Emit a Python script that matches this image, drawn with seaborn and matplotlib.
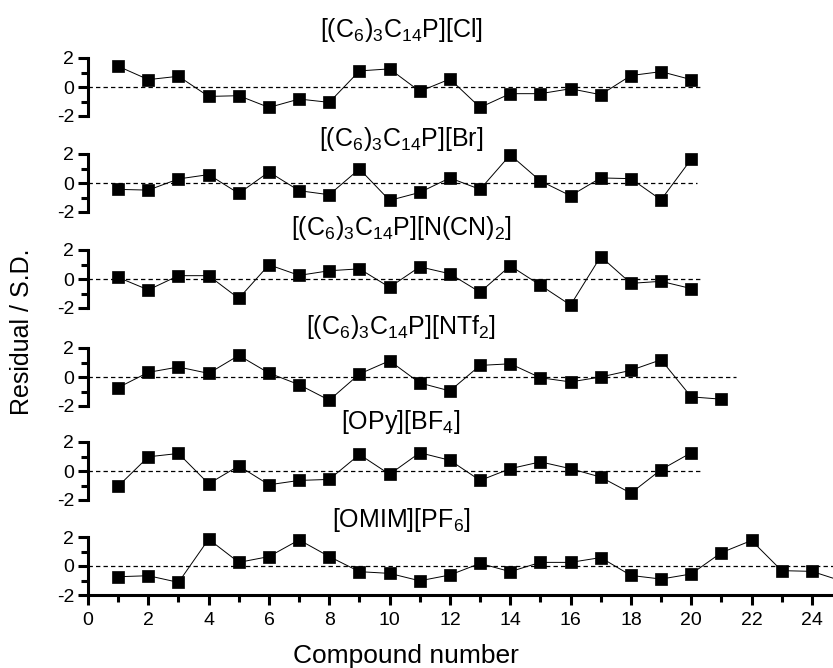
import numpy as np
import pandas as pd
import matplotlib
matplotlib.use('Agg')
import matplotlib.pyplot as plt
import seaborn as sns

# residuals, one list per ionic liquid
titles = [r'[(C$_6$)$_3$C$_{14}$P][Cl]',
          r'[(C$_6$)$_3$C$_{14}$P][Br]',
          r'[(C$_6$)$_3$C$_{14}$P][N(CN)$_2$]',
          r'[(C$_6$)$_3$C$_{14}$P][NTf$_2$]',
          r'[OPy][BF$_4$]',
          r'[OMIM][PF$_6$]']

res_cl = [1.43, 0.51, 0.74, -0.65, -0.60, -1.41, -0.83, -1.06, 1.11, 1.25,
          -0.30, 0.55, -1.41, -0.46, -0.46, -0.12, -0.53, 0.79, 1.06, 0.51]
res_br = [-0.44, -0.49, 0.28, 0.58, -0.72, 0.76, -0.53, -0.81, 0.97, -1.20,
          -0.65, 0.35, -0.44, 1.94, 0.14, -0.88, 0.35, 0.30, -1.16, 1.64]
res_ncn = [0.11, -0.75, 0.23, 0.23, -1.34, 0.98, 0.25, 0.57, 0.70, -0.57,
           0.84, 0.36, -0.91, 0.91, -0.43, -1.80, 1.55, -0.30, -0.16, -0.66]
res_ntf2 = [-0.73, 0.32, 0.69, 0.25, 1.49, 0.27, -0.53, -1.60, 0.21, 1.12,
            -0.41, -0.96, 0.80, 0.91, -0.05, -0.34, 0.00, 0.46, 1.19, -1.37, -1.53]
res_opy = [-1.05, 0.98, 1.21, -0.88, 0.35, -0.95, -0.65, -0.58, 1.14, -0.23,
           1.26, 0.74, -0.65, 0.16, 0.63, 0.16, -0.42, -1.53, 0.09, 1.26]
res_omim = [-0.74, -0.67, -1.13, 1.85, 0.25, 0.65, 1.80, 0.65, -0.39, -0.51,
            -1.02, -0.62, 0.18, -0.39, 0.25, 0.25, 0.58, -0.65, -0.90, -0.55,
            0.92, 1.76, -0.32, -0.37, -1.04]

series = [res_cl, res_br, res_ncn, res_ntf2, res_opy, res_omim]
# where each dashed zero line stops
zero_end = [20.4, 20.2, 20.3, 21.5, 20.3, 25]

sns.set_style('ticks')
plt.rcParams['font.family'] = ['Liberation Sans', 'DejaVu Sans']
plt.rcParams['mathtext.default'] = 'regular'
plt.rcParams['axes.unicode_minus'] = False
for k in ['text.color', 'axes.labelcolor', 'xtick.color', 'ytick.color', 'axes.edgecolor']:
    plt.rcParams[k] = 'k'

fig = plt.figure(figsize=(8.33, 6.68), dpi=100)

W, H = 833, 668
tops = [58, 154, 250, 348, 442, 537]
title_base = [37, 146, 235, 334, 429, 527]
left_px, right_px = 88, 842

for i, (vals, title) in enumerate(zip(series, titles)):
    top = tops[i]
    bot = top + 58
    ax = fig.add_axes([left_px / W, 1 - bot / H, (right_px - left_px) / W, (bot - top) / H])
    ax.set_facecolor('none')
    df = pd.DataFrame({'x': np.arange(1, len(vals) + 1), 'y': vals})
    ax.hlines(0, 0, zero_end[i], colors='k', linestyles=(0, (3.5, 2.5)), linewidth=0.9)
    sns.lineplot(data=df, x='x', y='y', ax=ax, color='k', linewidth=0.7,
                 marker='s', markersize=8, markeredgecolor='k', markeredgewidth=0.5,
                 clip_on=False)
    ax.set_xlim(0, 25)
    ax.set_ylim(-2, 2)
    ax.set_yticks([-2, 0, 2])
    ax.set_yticks([-1, 1], minor=True)
    ax.set_ylabel('')
    ax.set_xlabel('')
    fig.text(401 / W, 1 - title_base[i] / H, title, fontsize=18, ha='center', va='baseline')
    for s in ['top', 'right']:
        ax.spines[s].set_visible(False)
    ax.spines['left'].set_linewidth(2.2)
    ax.tick_params(axis='y', which='major', direction='out', length=7, width=2.2,
                   labelsize=14, pad=3)
    ax.tick_params(axis='y', which='minor', direction='out', length=5, width=2.2)
    if i < len(series) - 1:
        ax.spines['bottom'].set_visible(False)
        ax.tick_params(axis='x', which='both', bottom=False, labelbottom=False)
    else:
        ax.spines['bottom'].set_linewidth(2.2)
        ax.set_xticks(np.arange(0, 25, 2))
        ax.set_xticks(np.arange(1, 26, 2), minor=True)
        ax.tick_params(axis='x', which='major', direction='out', length=7, width=2.2,
                       labelsize=14, pad=5)
        ax.tick_params(axis='x', which='minor', direction='out', length=5, width=2.2)

fig.text(406 / W, 1 - 663 / H, 'Compound number', fontsize=19, ha='center', va='baseline')
fig.text(22 / W, 1 - 332 / H, 'Residual / S.D.', rotation=90, va='center', ha='center', fontsize=18)

fig.savefig('out.png', dpi=100)
